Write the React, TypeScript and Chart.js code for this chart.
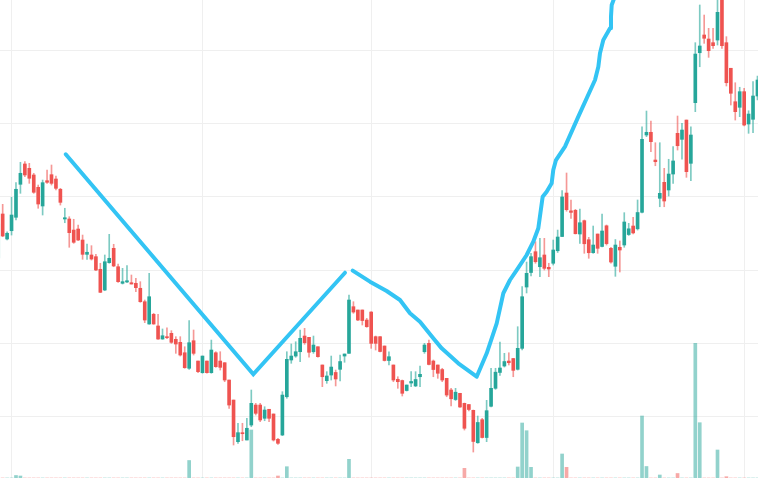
import React, { useEffect, useRef } from 'react';
import { Chart, registerables } from 'chart.js';

Chart.register(...registerables);

// Candles are indexed from FIRST_INDEX (one partially hidden candle at the left edge)
const FIRST_INDEX = -1;

const OPEN = [
  121.64, 127.64, 124.23, 125.36, 127.19, 131.69, 134.46, 133.87, 132.96, 131.28,
  128.73, 132.18, 133.00, 132.41, 131.01, 126.96, 126.96, 125.45, 125.59, 124.09,
  122.14, 122.05, 121.82, 120.10, 117.27, 121.00, 122.96, 120.45, 118.19, 118.37,
  118.27, 118.19, 117.51, 115.68, 112.64, 113.96, 112.37, 110.59, 110.91, 111.37,
  110.55, 110.14, 108.72, 106.60, 110.36, 107.59, 106.00, 107.59, 106.00, 108.72,
  107.59, 107.36, 105.00, 102.27, 96.59, 97.82, 96.82, 98.86, 101.59, 101.59,
  99.78, 101.01, 100.37, 96.91, 97.50, 102.72, 107.73, 108.27, 108.86, 111.00,
  110.82, 108.86, 109.54, 107.05, 104.91, 105.68, 106.03, 106.46, 108.27, 108.64,
  115.00, 114.55, 114.55, 113.18, 114.27, 110.91, 110.91, 109.64, 107.66, 107.05,
  105.10, 104.93, 103.57, 104.59, 104.19, 105.45, 108.86, 110.00, 107.59, 107.05,
  106.43, 105.23, 103.64, 102.34, 103.19, 101.82, 101.66, 100.87, 96.45, 99.59,
  97.16, 101.42, 103.87, 106.03, 106.91, 107.59, 107.93, 106.46, 109.32, 117.68,
  119.66, 122.50, 120.45, 122.05, 120.37, 120.92, 122.63, 124.57, 130.50, 128.07,
  128.14, 124.91, 126.73, 124.13, 122.36, 124.91, 123.21, 126.03, 122.96, 120.51,
  123.10, 123.41, 124.84, 126.00, 125.62, 127.87, 138.41, 138.78, 135.00, 129.78,
  131.96, 130.91, 133.09, 138.64, 137.82, 140.45, 134.55, 142.82, 149.63, 152.05,
  151.50, 151.00, 151.36, 157.30, 151.00, 147.51, 142.95, 142.19, 144.32, 139.91,
  140.55, 143.73,
];

const HIGH = [
  126.59, 128.96, 125.22, 129.92, 131.91, 134.69, 134.77, 134.55, 133.19, 131.59,
  132.27, 133.64, 134.32, 132.82, 131.14, 128.42, 127.27, 126.92, 126.14, 124.77,
  123.55, 123.32, 122.14, 120.92, 122.05, 124.87, 123.51, 120.82, 120.23, 120.59,
  119.32, 118.87, 118.41, 115.91, 119.55, 114.10, 113.96, 111.96, 112.13, 111.73,
  110.91, 110.91, 109.54, 113.09, 111.82, 107.59, 108.27, 107.59, 110.45, 108.86,
  108.86, 107.36, 105.00, 102.27, 99.10, 99.10, 99.78, 103.64, 101.82, 101.82,
  101.36, 101.01, 100.37, 97.05, 103.41, 108.86, 109.91, 110.22, 111.82, 112.05,
  110.82, 111.00, 109.54, 107.05, 106.14, 108.27, 106.36, 108.41, 108.55, 116.59,
  115.68, 114.55, 114.55, 113.41, 114.32, 111.00, 110.91, 109.64, 108.86, 107.05,
  105.45, 105.00, 104.32, 106.14, 106.14, 106.91, 110.00, 110.45, 107.73, 107.05,
  106.60, 105.23, 103.87, 103.87, 103.19, 101.86, 101.66, 100.91, 100.09, 99.78,
  102.23, 106.60, 106.60, 110.16, 108.64, 108.72, 107.96, 112.27, 117.73, 121.09,
  122.28, 123.86, 124.32, 124.32, 120.92, 124.09, 125.45, 130.84, 133.23, 129.55,
  128.28, 128.32, 126.82, 124.46, 126.00, 124.91, 127.64, 126.14, 123.10, 124.16,
  123.96, 127.82, 126.37, 127.19, 129.55, 139.54, 141.68, 140.32, 137.36, 137.36,
  133.87, 135.10, 136.82, 141.00, 140.01, 140.45, 139.54, 151.00, 156.14, 154.77,
  152.96, 152.96, 157.50, 157.60, 151.82, 147.51, 145.54, 144.92, 144.78, 141.72,
  145.68, 146.46,
];

const LOW = [
  121.37, 124.54, 124.09, 124.77, 126.82, 130.46, 132.73, 131.82, 130.46, 128.42,
  127.50, 131.82, 131.59, 130.91, 128.86, 126.45, 123.10, 123.64, 124.00, 121.46,
  121.46, 121.36, 119.91, 116.91, 117.18, 120.92, 120.45, 118.32, 118.09, 118.27,
  118.09, 117.04, 115.60, 112.82, 112.60, 112.60, 110.55, 110.55, 110.64, 110.00,
  108.64, 108.27, 106.60, 106.46, 108.41, 106.00, 105.92, 105.92, 105.92, 106.73,
  106.36, 104.77, 101.14, 96.14, 96.37, 96.72, 96.82, 98.63, 100.23, 99.32,
  99.45, 99.32, 96.68, 96.23, 97.41, 102.51, 107.28, 108.10, 107.50, 109.87,
  108.10, 108.64, 108.10, 104.09, 104.55, 105.00, 104.19, 104.87, 107.42, 108.64,
  114.10, 113.09, 112.50, 112.19, 109.32, 109.09, 108.82, 107.59, 107.05, 104.77,
  103.87, 102.82, 103.50, 104.09, 104.09, 104.09, 108.64, 107.05, 105.45, 105.23,
  104.77, 102.72, 101.46, 102.21, 101.28, 98.18, 100.77, 95.18, 96.37, 97.09,
  96.59, 101.32, 103.73, 105.62, 106.77, 107.05, 105.45, 106.36, 109.09, 116.87,
  119.18, 120.92, 119.09, 120.00, 119.09, 120.68, 122.39, 124.54, 128.02, 127.05,
  124.91, 123.64, 122.28, 121.60, 122.28, 122.28, 123.14, 123.41, 120.92, 119.14,
  119.73, 123.10, 124.71, 124.91, 125.45, 127.77, 138.18, 136.13, 134.22, 128.63,
  128.63, 130.09, 131.82, 136.36, 135.10, 132.64, 132.18, 141.59, 147.72, 150.91,
  149.00, 150.23, 150.68, 150.23, 145.09, 142.50, 140.45, 140.91, 139.64, 138.64,
  138.72, 143.18,
];

const CLOSE = [
  126.27, 124.64, 125.01, 127.50, 131.01, 133.19, 132.96, 132.51, 130.60, 129.00,
  131.91, 131.96, 131.82, 131.14, 129.23, 127.13, 125.09, 123.78, 124.09, 122.14,
  122.42, 121.50, 120.00, 116.96, 121.13, 121.60, 120.55, 118.41, 118.41, 118.54,
  118.09, 117.59, 115.68, 113.18, 116.36, 112.64, 110.59, 111.04, 110.77, 110.14,
  109.91, 108.41, 106.68, 110.09, 108.64, 106.14, 108.27, 106.00, 109.09, 106.82,
  106.73, 105.00, 101.59, 97.27, 97.82, 97.68, 98.42, 101.82, 100.46, 99.55,
  100.91, 99.78, 96.82, 96.37, 102.95, 107.82, 108.27, 108.86, 110.69, 110.09,
  108.78, 109.77, 108.18, 105.45, 105.55, 106.77, 105.14, 107.52, 108.55, 115.91,
  114.27, 113.18, 113.11, 112.27, 110.00, 110.00, 108.89, 107.66, 108.18, 105.00,
  104.77, 103.19, 104.32, 104.80, 105.07, 105.78, 109.77, 107.12, 106.43, 105.92,
  105.00, 102.95, 102.44, 103.34, 101.32, 98.42, 100.98, 96.62, 99.21, 97.16,
  100.82, 103.87, 106.07, 106.64, 107.52, 107.36, 106.32, 109.32, 116.36, 119.55,
  121.82, 121.13, 121.68, 120.23, 120.14, 122.73, 124.50, 129.96, 128.23, 127.86,
  124.95, 126.45, 123.58, 122.36, 123.41, 122.96, 125.32, 123.60, 121.09, 123.41,
  122.73, 126.55, 125.62, 125.06, 127.84, 137.82, 138.78, 137.50, 134.77, 130.46,
  129.41, 133.09, 134.87, 136.95, 139.09, 133.41, 138.41, 149.45, 150.55, 151.60,
  149.91, 150.59, 155.14, 150.59, 145.54, 144.10, 141.59, 144.32, 139.77, 141.27,
  143.73, 145.91,
];

const VOLUME = [
  0, 0, 0, 0, 25, 20, 0, 0, 0, 0,
  0, 0, 0, 0, 0, 0, 0, 0, 0, 0,
  0, 0, 0, 0, 0, 0, 0, 0, 0, 0,
  0, 0, 0, 0, 0, 0, 0, 0, 0, 0,
  0, 0, 0, 175, 0, 0, 0, 0, 0, 0,
  0, 0, 0, 0, 0, 0, 0, 480, 0, 0,
  0, 0, 0, 20, 0, 113, 0, 0, 0, 0,
  0, 0, 0, 0, 0, 0, 0, 0, 0, 187,
  0, 0, 0, 0, 0, 0, 0, 0, 0, 0,
  0, 0, 0, 0, 0, 0, 0, 0, 0, 0,
  0, 0, 0, 0, 0, 97, 0, 0, 0, 0,
  0, 0, 0, 0, 0, 0, 0, 110, 550, 473,
  107, 0, 0, 0, 0, 0, 0, 240, 107, 0,
  0, 0, 0, 0, 0, 0, 0, 0, 0, 0,
  0, 0, 0, 0, 0, 620, 115, 0, 0, 30,
  0, 0, 0, 45, 0, 0, 0, 1347, 553, 0,
  0, 0, 280, 0, 13, 0, 0, 0, 0, 0,
  0, 0,
];

// Hand-drawn annotation strokes (candle index, price)
const LINE1_X = [14.2, 56.45, 77.1];
const LINE1_Y = [135.78, 105.78, 119.63];

const LINE2_X = [
  78.84, 82.73, 86.49, 89.49, 91.74, 93.99, 96.99, 98.88, 102.62, 106.76,
  109.02, 111.27, 112.76, 114.26, 115.77, 118.02, 119.51, 120.64, 121.62, 122.52,
  123.65, 124.01, 124.62, 126.65, 129.65, 133.41, 134.16, 134.53, 135.28, 136.79,
  137.01, 137.17, 137.75,
];
const LINE2_Y = [
  119.91, 118.41, 117.14, 115.91, 114.10, 112.95, 110.69, 109.32, 107.28, 105.45,
  108.64, 112.73, 116.83, 118.64, 120.0, 122.05, 123.86, 125.69, 129.98, 130.68,
  131.82, 133.64, 135.0, 136.82, 140.91, 145.91, 147.72, 149.55, 151.37, 152.96,
  154.54, 156.14, 157.09,
];

// Grid positions
const X_GRID = [2, 45, 83, 124, 167];
const PRICE_GRID = [100, 110, 120, 130, 140, 150];

const X_MIN = -0.6;
const X_MAX = 170.12;
const PRICE_MIN = 91.64;
const PRICE_MAX = 156.82;
const VOLUME_MAX = 4780;

const GREEN = '#26a69a';
const RED = '#ef5350';
const GREEN_WICK = 'rgba(38,166,154,0.6)';
const RED_WICK = 'rgba(239,83,80,0.6)';
const GREEN_VOL = 'rgba(38,166,154,0.5)';
const RED_VOL = 'rgba(239,83,80,0.5)';
const BLUE = '#33c4f4';
const GRID = '#efefef';

export default function App() {
  const ref = useRef<HTMLCanvasElement | null>(null);

  useEffect(() => {
    document.body.style.margin = '0';
    if (!ref.current) return;
    const idx = OPEN.map((_, k) => FIRST_INDEX + k);
    const up = OPEN.map((o, k) => CLOSE[k] >= o);

    const chart = new Chart(ref.current, {
      type: 'bar',
      data: {
        datasets: [
          {
            type: 'line',
            data: LINE1_X.map((x, k) => ({ x, y: LINE1_Y[k] })),
            borderColor: BLUE,
            borderWidth: 4,
            pointRadius: 0,
            tension: 0,
            borderCapStyle: 'round',
            borderJoinStyle: 'miter',
            xAxisID: 'x',
            yAxisID: 'y',
          } as any,
          {
            type: 'line',
            data: LINE2_X.map((x, k) => ({ x, y: LINE2_Y[k] })),
            borderColor: BLUE,
            borderWidth: 4,
            pointRadius: 0,
            tension: 0,
            borderCapStyle: 'round',
            borderJoinStyle: 'round',
            xAxisID: 'x',
            yAxisID: 'y',
          } as any,
          {
            type: 'bar',
            data: idx.map((x, k) => ({ x, y: [OPEN[k], CLOSE[k]] })),
            backgroundColor: up.map((u) => (u ? GREEN : RED)),
            barThickness: 3,
            minBarLength: 1,
            grouped: false,
            xAxisID: 'x',
            yAxisID: 'y',
          } as any,
          {
            type: 'bar',
            data: idx.map((x, k) => ({ x, y: [LOW[k], HIGH[k]] })),
            backgroundColor: up.map((u) => (u ? GREEN_WICK : RED_WICK)),
            barThickness: 1,
            grouped: false,
            xAxisID: 'x',
            yAxisID: 'y',
          } as any,
          {
            type: 'bar',
            data: idx.map((x, k) => ({ x, y: VOLUME[k] })),
            backgroundColor: up.map((u) => (u ? GREEN_VOL : RED_VOL)),
            barThickness: 3,
            grouped: false,
            xAxisID: 'x',
            yAxisID: 'v',
          } as any,
        ],
      },
      options: {
        animation: false,
        responsive: true,
        maintainAspectRatio: false,
        layout: { padding: 0 },
        plugins: { legend: { display: false }, tooltip: { enabled: false } },
        scales: {
          x: {
            type: 'linear',
            min: X_MIN,
            max: X_MAX,
            offset: false,
            grid: { color: GRID, drawTicks: false, offset: false },
            border: { display: false },
            ticks: { display: false },
            afterBuildTicks: (s: any) => {
              s.ticks = X_GRID.map((value) => ({ value }));
            },
          },
          y: {
            type: 'linear',
            min: PRICE_MIN,
            max: PRICE_MAX,
            grid: { color: GRID, drawTicks: false },
            border: { display: false },
            ticks: { display: false },
            afterBuildTicks: (s: any) => {
              s.ticks = PRICE_GRID.map((value) => ({ value }));
            },
          },
          v: {
            type: 'linear',
            min: 0,
            max: VOLUME_MAX,
            display: false,
          },
        },
      } as any,
    });
    return () => chart.destroy();
  }, []);

  return (
    <div style={{ position: 'fixed', left: 0, top: 0, width: 758, height: 478, background: '#ffffff' }}>
      <canvas ref={ref} />
    </div>
  );
}
